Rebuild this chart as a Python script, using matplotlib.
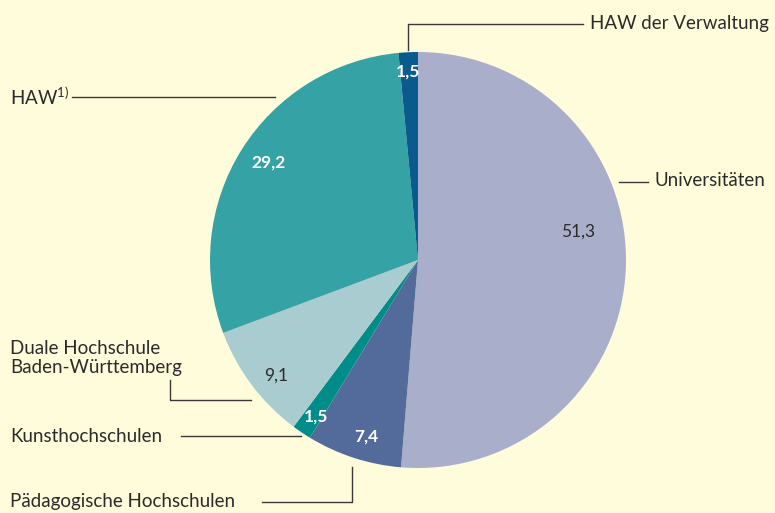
import matplotlib
matplotlib.use("Agg")
import matplotlib.pyplot as plt

# Anteile in Prozent
kategorien = ["Universitäten", "Pädagogische Hochschulen", "Kunsthochschulen",
              "Duale Hochschule\nBaden-Württemberg", "HAW", "HAW der Verwaltung"]
anteile = [51.3, 7.4, 1.5, 9.1, 29.2, 1.5]
farben = ["#a9aecb", "#536b9b", "#008d8a", "#a8cccf", "#35a2a5", "#0b5a8d"]
textfarben = ["#2b2b2b", "white", "white", "#2b2b2b", "white", "white"]

plt.rcParams['font.family'] = ['Lato', 'DejaVu Sans']
plt.rcParams['mathtext.fontset'] = 'custom'
plt.rcParams['mathtext.rm'] = 'Lato'
hintergrund = "#fffcdb"

fig = plt.figure(figsize=(7.75, 5.13), dpi=100, facecolor=hintergrund)

# Pie in eigener Achse (Mitte 418/260, Radius 208 Pixel)
cx, cy, r = 418, 260, 208
pax = fig.add_axes([(cx - r) / 775, 1 - (cy + r) / 513, 2 * r / 775, 2 * r / 513])
pax.pie(anteile, colors=farben, startangle=90, counterclock=False,
        wedgeprops=dict(linewidth=0))
pax.set_xlim(-1, 1)
pax.set_ylim(-1, 1)
pax.axis("off")

# Achse in Pixelkoordinaten fuer Texte und Linien, ueber dem Kreis
ax = fig.add_axes([0, 0, 1, 1])
ax.set_zorder(2)
ax.set_xlim(0, 775)
ax.set_ylim(513, 0)
ax.axis("off")

# Werte
wert_pos = [(578, 232), (366, 437), (316, 417), (276, 376), (268, 163), (408, 72)]
for w, (x, y), c in zip(anteile, wert_pos, textfarben):
    ax.text(x, y, f"{w:.1f}".replace(".", ","), color=c, fontsize=12.5,
            fontweight="bold" if c == "white" else "normal",
            ha="center", va="center")

lc = "#3a3a3a"
lw = 1.0
tc = "#2b2b2b"
fs = 13.5

# HAW der Verwaltung
ax.plot([408, 408, 583], [50, 24, 24], color=lc, lw=lw)
ax.text(590, 24, kategorien[5], fontsize=fs, color=tc, va="center", ha="left")
# HAW
ax.plot([72, 275], [97, 97], color=lc, lw=lw)
ax.text(10, 97, "HAW$^{1)}$", fontsize=fs, color=tc, va="center", ha="left")
# Universitäten
ax.plot([619, 648], [182, 182], color=lc, lw=lw)
ax.text(654, 181, kategorien[0], fontsize=fs, color=tc, va="center", ha="left")
# Duale Hochschule
ax.plot([170, 170, 251], [380, 400, 400], color=lc, lw=lw)
ax.text(10, 358, kategorien[3], fontsize=fs, color=tc, va="center", ha="left",
        linespacing=1.15)
# Kunsthochschulen
ax.plot([181, 301], [436, 436], color=lc, lw=lw)
ax.text(10, 437, kategorien[2], fontsize=fs, color=tc, va="center", ha="left")
# Pädagogische Hochschulen
ax.plot([262, 352, 352], [502, 502, 467], color=lc, lw=lw)
ax.text(10, 501, kategorien[1], fontsize=fs, color=tc, va="center", ha="left")

fig.savefig("out.png", dpi=100, facecolor=hintergrund)
